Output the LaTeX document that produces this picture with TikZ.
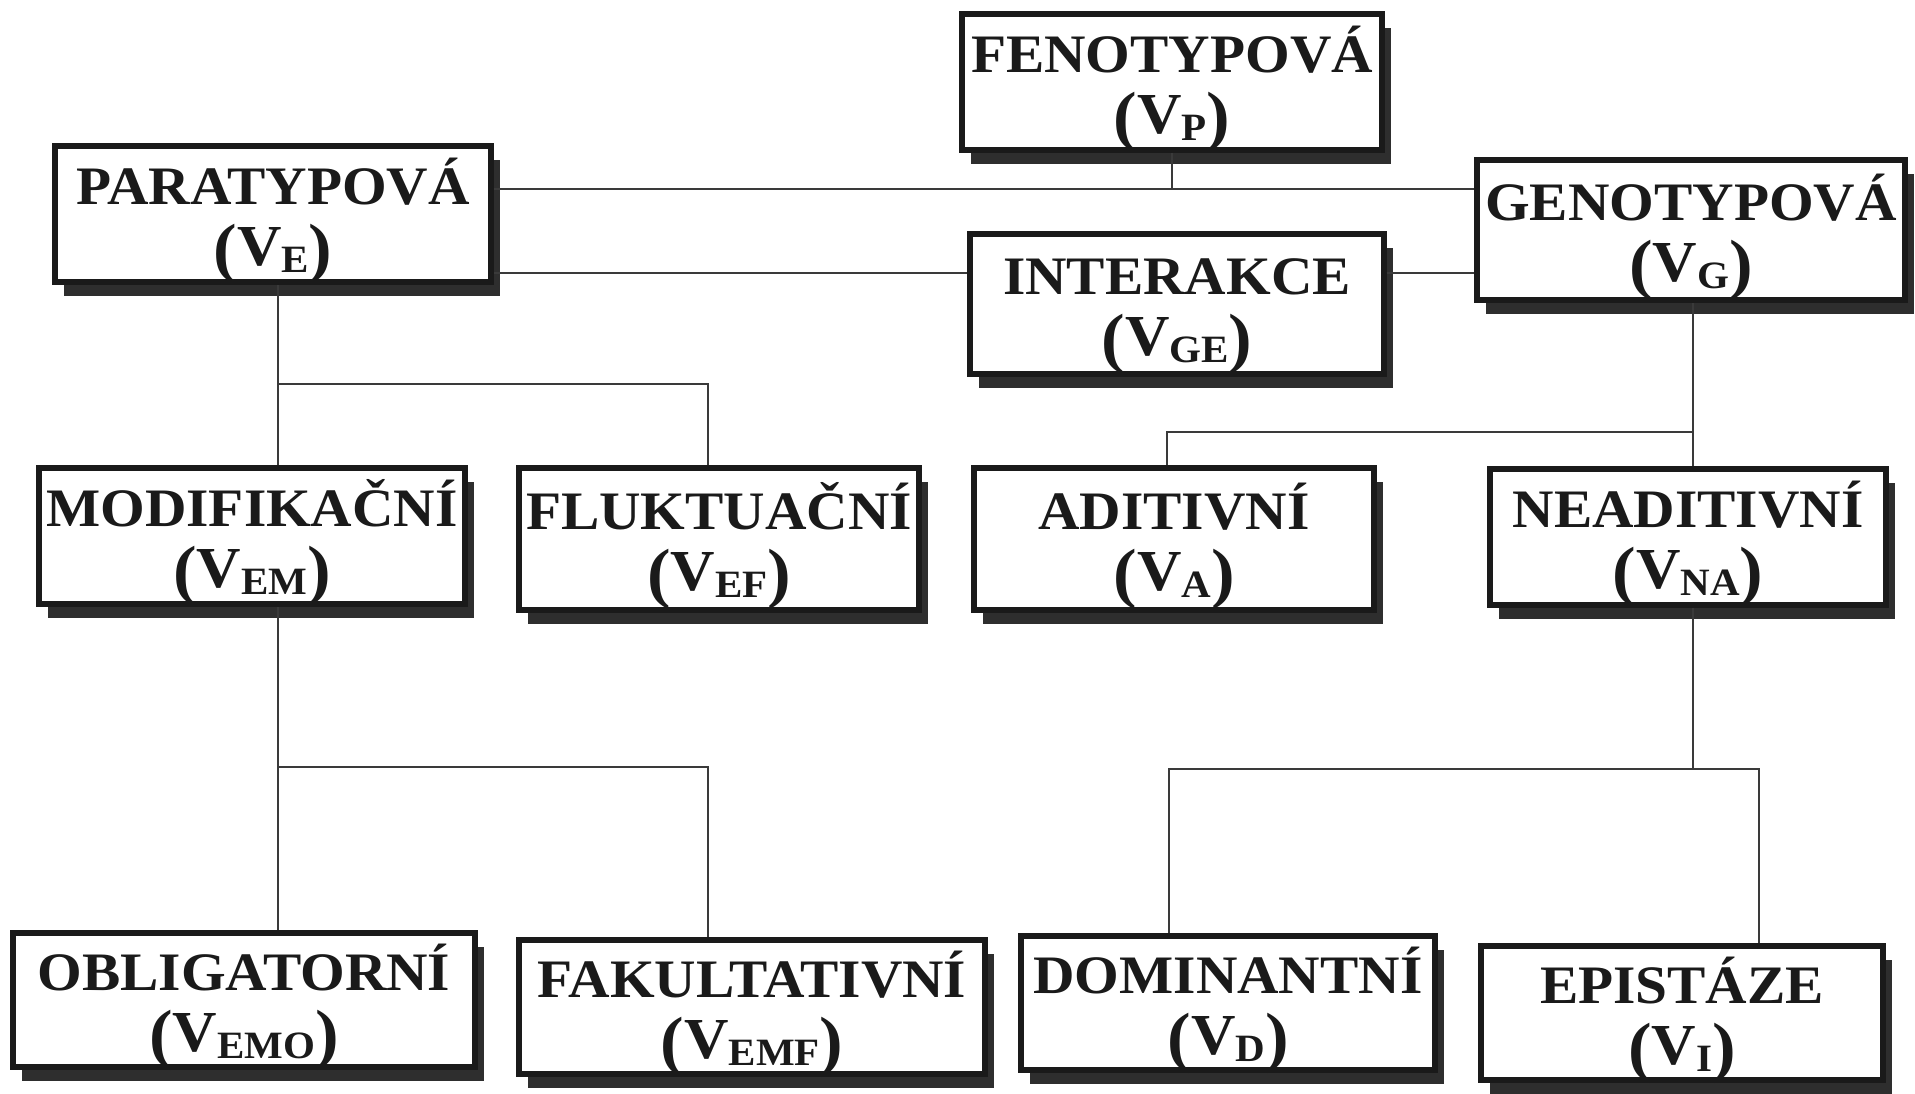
\documentclass[tikz,border=0pt]{standalone}
\usepackage{fontspec}
\usepackage{tikz}
\usetikzlibrary{shadows}
\newfontfamily\boxfont{Liberation Serif}[FakeStretch=1.06]
\definecolor{boxblack}{HTML}{1A1A1A}
\definecolor{shadowgray}{HTML}{2E2E2E}
\definecolor{wiregray}{HTML}{3A3A3A}
\newcommand{\vpart}[1]{\smash{{\fontsize{19pt}{19pt}\selectfont\raisebox{-0.05cm}{(}}{\fontsize{16.5pt}{16.5pt}\selectfont V}\raisebox{-0.07cm}{\fontsize{11pt}{11pt}\selectfont #1}{\fontsize{19pt}{19pt}\selectfont\raisebox{-0.05cm}{)}}}\rule[-0.10cm]{0pt}{0.10cm}}
\newcommand{\boxlabel}[2]{\rule{0pt}{0.52cm}#1\\\vpart{#2}}

\begin{document}
\begin{tikzpicture}[
    x=0.01cm, y=-0.01cm,
    box/.style={
        draw=boxblack,
        line width=1.7pt,
        fill=white,
        align=center,
        inner sep=0pt,
        text=boxblack,
        font=\boxfont\bfseries\fontsize{15.4pt}{17.6pt}\selectfont,
        general shadow={fill=shadowgray, shadow xshift=0.09cm, shadow yshift=-0.14cm}},
    wire/.style={draw=wiregray, line width=0.5pt}]
    \useasboundingbox (0,0) rectangle (1915,1093);
    % top level
    \node[box, minimum width=4.19cm, minimum height=1.35cm] (fen) at (1172,82) {\boxlabel{FENOTYPOVÁ}{P}};
    \node[box, minimum width=4.36cm, minimum height=1.36cm] (par) at (273,214) {\boxlabel{PARATYPOVÁ}{E}};
    \node[box, minimum width=4.27cm, minimum height=1.40cm] (gen) at (1691,230) {\boxlabel{GENOTYPOVÁ}{G}};
    \node[box, minimum width=4.13cm, minimum height=1.39cm] (inter) at (1177,304) {\boxlabel{INTERAKCE}{GE}};
    % second level
    \node[box, minimum width=4.25cm, minimum height=1.36cm] (mod) at (252,536) {\boxlabel{MODIFIKAČNÍ}{EM}};
    \node[box, minimum width=3.99cm, minimum height=1.42cm] (flu) at (719,539) {\boxlabel{FLUKTUAČNÍ}{EF}};
    \node[box, minimum width=3.99cm, minimum height=1.42cm] (adi) at (1174,539) {\boxlabel{ADITIVNÍ}{A}};
    \node[box, minimum width=3.96cm, minimum height=1.35cm] (nea) at (1688,537) {\boxlabel{NEADITIVNÍ}{NA}};
    % third level
    \node[box, minimum width=4.62cm, minimum height=1.34cm] (obl) at (244,1000) {\boxlabel{OBLIGATORNÍ}{EMO}};
    \node[box, minimum width=4.65cm, minimum height=1.34cm] (fak) at (752,1007) {\boxlabel{FAKULTATIVNÍ}{EMF}};
    \node[box, minimum width=4.14cm, minimum height=1.34cm] (dom) at (1228,1003) {\boxlabel{DOMINANTNÍ}{D}};
    \node[box, minimum width=4.02cm, minimum height=1.34cm] (epi) at (1682,1013) {\boxlabel{EPISTÁZE}{I}};
    % junctions
    \coordinate (topbus) at (0,189);
    \coordinate (midbus) at (0,273);
    \coordinate (ltrunk) at (278,384);
    \coordinate (lbus) at (708,384);
    \coordinate (rjoin) at (1693,432);
    \coordinate (rbus) at (1167,432);
    \coordinate (ltrunk2) at (278,767);
    \coordinate (lbus2) at (708,767);
    \coordinate (rjoin2) at (1693,769);
    \coordinate (rbusa) at (1169,769);
    \coordinate (rbusb) at (1759,769);
    % connectors
    \draw[wire] (par.east |- topbus) -- (gen.west |- topbus);
    \draw[wire] (fen.south) -- (fen.south |- topbus);
    \draw[wire] (par.east |- midbus) -- (inter.west |- midbus);
    \draw[wire] (inter.east |- midbus) -- (gen.west |- midbus);
    \draw[wire] (par.south -| ltrunk) -- (mod.north -| ltrunk);
    \draw[wire] (ltrunk) -- (lbus) -- (lbus |- flu.north);
    \draw[wire] (mod.south -| ltrunk2) -- (obl.north -| ltrunk2);
    \draw[wire] (ltrunk2) -- (lbus2) -- (lbus2 |- fak.north);
    \draw[wire] (gen.south -| rjoin) -- (nea.north -| rjoin);
    \draw[wire] (rjoin) -- (rbus) -- (rbus |- adi.north);
    \draw[wire] (nea.south -| rjoin2) -- (rjoin2);
    \draw[wire] (rbusa |- dom.north) -- (rbusa) -- (rbusb) -- (rbusb |- epi.north);
\end{tikzpicture}
\end{document}
